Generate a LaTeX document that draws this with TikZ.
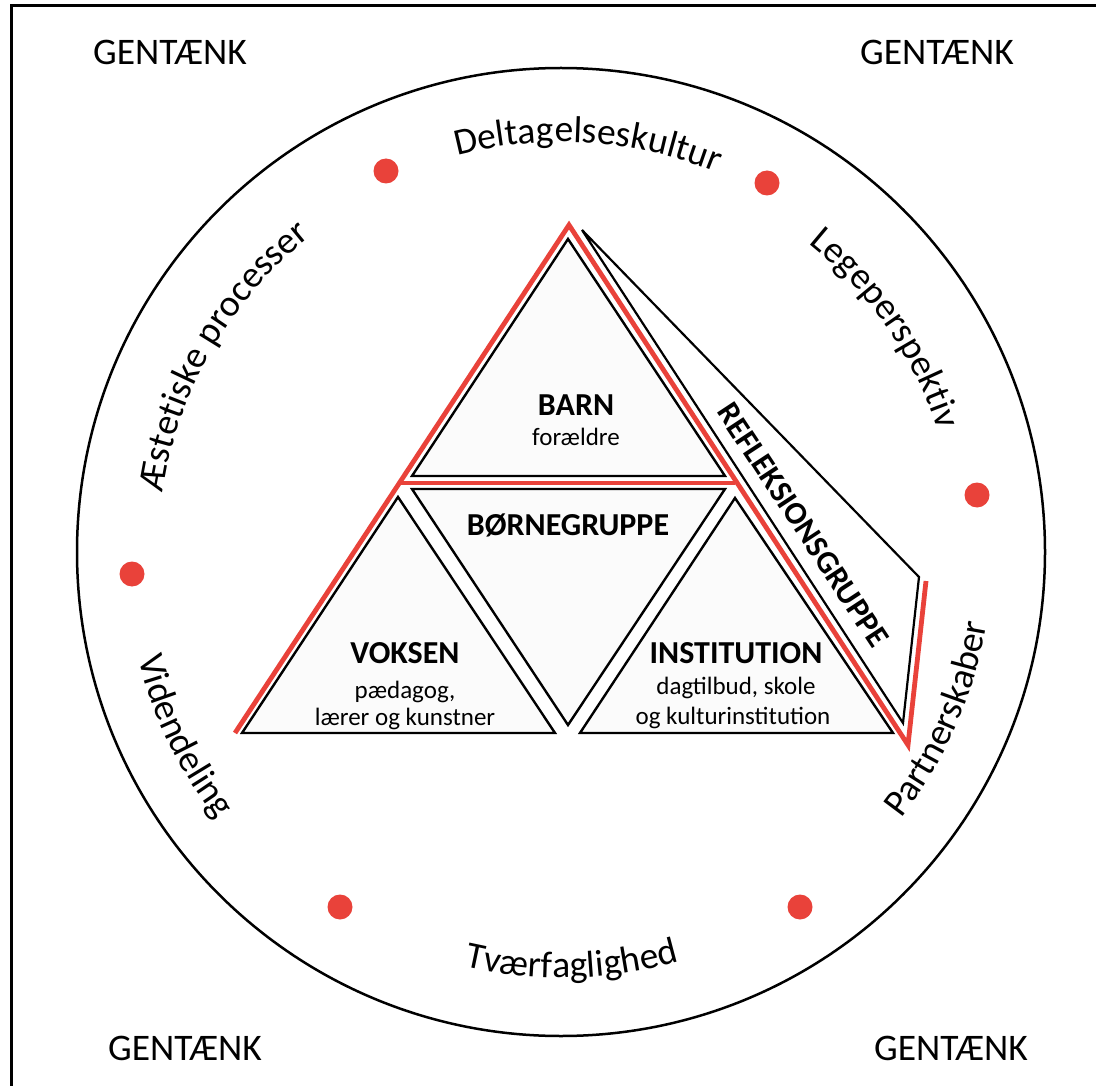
\documentclass[tikz,border=0pt]{standalone}
\usepackage{fontspec}
\setmainfont{Carlito}
\usetikzlibrary{decorations.text,calc}
\definecolor{redline}{RGB}{233,66,58}
\begin{document}
\begin{tikzpicture}[x=1pt,y=1pt,
  tri/.style={draw=black,line width=2.4pt,fill=black!1.5,line join=miter},
  redl/.style={draw=redline,line width=4.8pt},
  dot/.style={circle,fill=redline,minimum size=25pt,inner sep=0pt},
  gen/.style={font=\fontsize{37.5}{42}\selectfont,inner sep=0pt,anchor=base},
  ttl/.style={font=\bfseries\fontsize{32}{36}\selectfont,inner sep=0pt,anchor=base},
  sub/.style={font=\fontsize{25}{30}\selectfont,inner sep=0pt,anchor=base},
  arclabel/.style={decorate,decoration={text along path,text align=center,text={|\fontsize{37.5}{42}\selectfont|#1}}}
]
\useasboundingbox (0,0) rectangle (1096,-1086);
% frame
\draw[line width=3pt] (11,-5.5) rectangle (1120,-1110);
% circle
\coordinate (c) at (561,-552);
\draw[line width=2.5pt] (c) circle[radius=484];

% corner texts
\node[gen] (g1) at (170,-65) {GENTÆNK};
\node[gen] (g2) at (937,-65) {GENTÆNK};
\node[gen] (g3) at (185,-1060) {GENTÆNK};
\node[gen] (g4) at (951,-1060) {GENTÆNK};

% red dots
\node[dot] (d1) at (386,-171) {};
\node[dot] (d2) at (767,-183) {};
\node[dot] (d3) at (977,-495) {};
\node[dot] (d4) at (132,-574) {};
\node[dot] (d5) at (340,-907) {};
\node[dot] (d6) at (800,-907) {};

% curved labels (tops outward: clockwise arcs)
\path[arclabel={Deltagelseskultur}] ($(c)+(116.2:410)$) arc[start angle=116.2,end angle=56.2,radius=410];
\path[arclabel={Æstetiske processer}] ($(c)+(180:403)$) arc[start angle=180,end angle=120,radius=403];
\path[arclabel={Legeperspektiv}] ($(c)+(64.6:396)$) arc[start angle=64.6,end angle=4.6,radius=396];
% curved labels (tops inward: counter-clockwise arcs)
\path[arclabel={Partnerskaber}] ($(c)+(-53.8:432)$) arc[start angle=-53.8,end angle=6.2,radius=432];
\path[arclabel={Tværfaglighed}] ($(c)+(241.5:426)$) arc[start angle=241.5,end angle=301.5,radius=426];
\path[arclabel={Videndeling}] ($(c)+(176:436)$) arc[start angle=176,end angle=236,radius=436];

% triangles
\draw[tri] (568,-239) -- (725,-476) -- (412,-476) -- cycle;
\draw[tri] (412,-489) -- (725,-489) -- (568,-725) -- cycle;
\draw[tri] (398,-497) -- (555,-733) -- (242,-733) -- cycle;
\draw[tri] (735,-498) -- (893,-733) -- (580,-733) -- cycle;
% reflection group wedge
\draw[line width=2.2pt,line join=miter] (582,-230) -- (919,-577) -- (903,-723) -- cycle;

% red outline
\draw[redl,line join=miter] (235,-733) -- (569,-225) -- (908,-745) -- (926,-581);
\draw[redl] (400,-483) -- (735,-483);

% texts
\node[ttl] (barn) at (576,-415) {BARN};
\node[sub] (foraeldre) at (576,-445) {forældre};
\node[ttl] (born) at (568,-535) {BØRNEGRUPPE};
\node[ttl] (voksen) at (405,-663) {VOKSEN};
\node[sub] (paed) at (405,-698) {pædagog,};
\node[sub] (laerer) at (405,-725) {lærer og kunstner};
\node[ttl] (inst) at (736,-663) {INSTITUTION};
\node[sub] (dag) at (736,-694) {dagtilbud, skole};
\node[sub] (kult) at (733,-724) {og kulturinstitution};
\node[font=\bfseries\fontsize{32}{36}\selectfont,inner sep=0pt,rotate=-56.6] (refl) at (803,-525) {REFLEKSIONSGRUPPE};
\end{tikzpicture}
\end{document}
